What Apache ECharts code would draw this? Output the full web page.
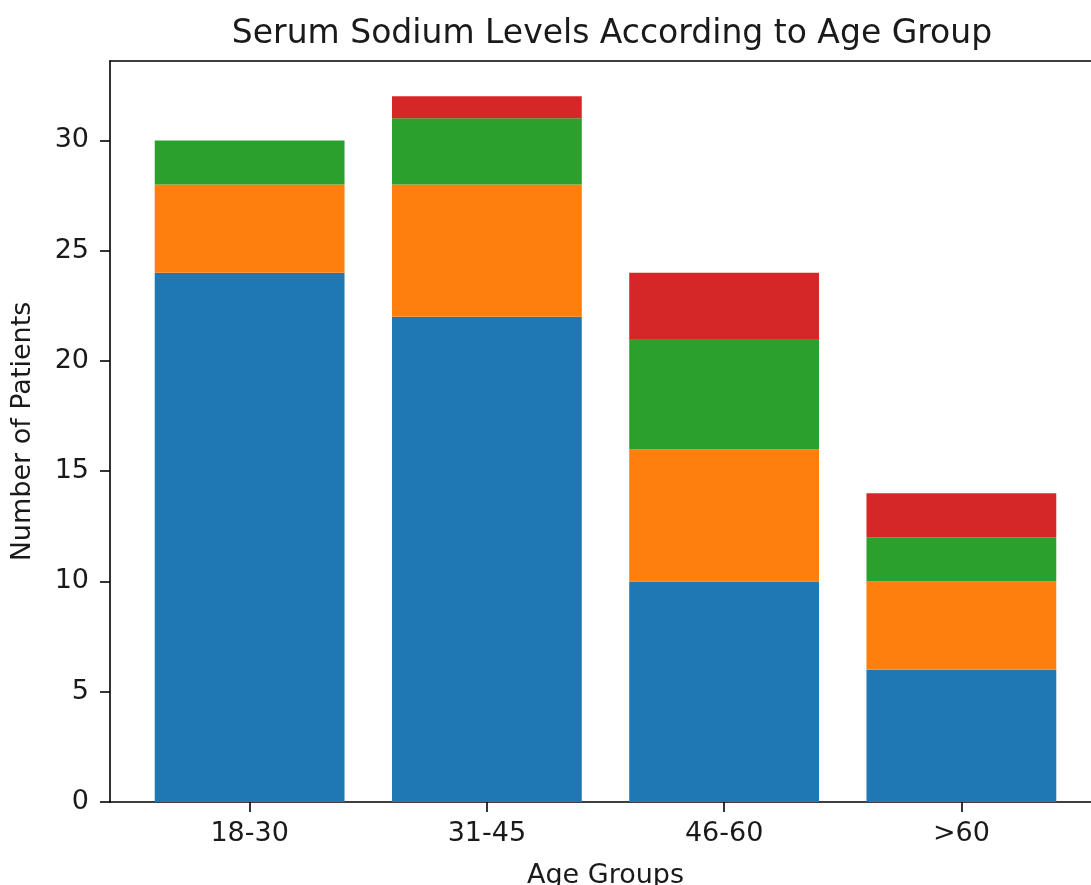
<!DOCTYPE html>
<html>
<head>
<meta charset="utf-8">
<script src="https://cdn.jsdelivr.net/npm/echarts@6/dist/echarts.min.js"></script>
<style>
  html, body { margin: 0; padding: 0; background: #fff; }
  #chart { width: 1091px; height: 885px; }
</style>
</head>
<body>
<div id="chart"></div>
<script>
  // age groups and patient counts per sodium level band
  var ageGroups = ['18-30', '31-45', '46-60', '>60'];
  var levelA = [24, 22, 10, 6];
  var levelB = [4, 6, 6, 4];
  var levelC = [2, 3, 5, 2];
  var levelD = [0, 1, 3, 2];
  var yTicks = [0, 5, 10, 15, 20, 25, 30];

  var colors = ['#1f77b4', '#ff7f0e', '#2ca02c', '#d62728'];
  var font = 'DejaVu Sans';
  var ink = '#1a1a1a';
  var spine = { color: '#000', width: 1.6 };

  function barSeries(arr, idx) {
    return {
      type: 'bar',
      stack: 'total',
      barWidth: '80%',
      xAxisIndex: 0,
      yAxisIndex: 0,
      data: arr,
      itemStyle: { color: colors[idx] },
      emphasis: { disabled: true }
    };
  }

  var chart = echarts.init(document.getElementById('chart'));
  var option = {
    animation: false,
    backgroundColor: '#fff',
    title: {
      text: 'Serum Sodium Levels According to Age Group',
      left: 607,
      textAlign: 'center',
      top: 13,
      textStyle: { fontFamily: font, fontSize: 33, fontWeight: 'normal', color: ink }
    },
    grid: [
      // bars
      { left: 131, right: 11, top: 61, bottom: 83, containLabel: false, outerBoundsMode: 'none' },
      // frame lines
      { left: 110, right: 0, top: 61, bottom: 83, containLabel: false, outerBoundsMode: 'none' }
    ],
    xAxis: [{
      type: 'category',
      gridIndex: 0,
      data: ageGroups,
      name: 'Age Groups',
      nameLocation: 'middle',
      nameGap: 60,
      nameTextStyle: { fontFamily: font, fontSize: 27, color: ink },
      axisLine: { show: false },
      axisTick: { show: true, alignWithLabel: true, length: 10, lineStyle: spine },
      axisLabel: { margin: 18, fontFamily: font, fontSize: 27, color: ink }
    }, {
      type: 'value',
      gridIndex: 1,
      min: 0,
      max: 1,
      splitLine: { show: false },
      axisLine: { show: true, lineStyle: spine },
      axisTick: { show: false },
      axisLabel: { show: false }
    }, {
      type: 'value',
      gridIndex: 1,
      position: 'top',
      min: 0,
      max: 1,
      splitLine: { show: false },
      axisLine: { show: true, lineStyle: spine },
      axisTick: { show: false },
      axisLabel: { show: false }
    }],
    yAxis: [{
      type: 'value',
      gridIndex: 0,
      min: 0,
      max: 33.6,
      offset: 21,
      name: 'Number of Patients',
      nameLocation: 'middle',
      nameGap: 74,
      nameTextStyle: { fontFamily: font, fontSize: 27, color: ink },
      splitLine: { show: false },
      axisLine: { show: true, onZero: false, lineStyle: spine },
      axisTick: { show: true, length: 10, customValues: yTicks, lineStyle: spine },
      axisLabel: { customValues: yTicks, margin: 21, fontFamily: font, fontSize: 27, color: ink }
    }, {
      type: 'value',
      gridIndex: 1,
      min: 0,
      max: 1,
      show: false
    }],
    series: [
      barSeries(levelA, 0),
      barSeries(levelB, 1),
      barSeries(levelC, 2),
      barSeries(levelD, 3)
    ]
  };
  chart.setOption(option);
</script>
</body>
</html>
